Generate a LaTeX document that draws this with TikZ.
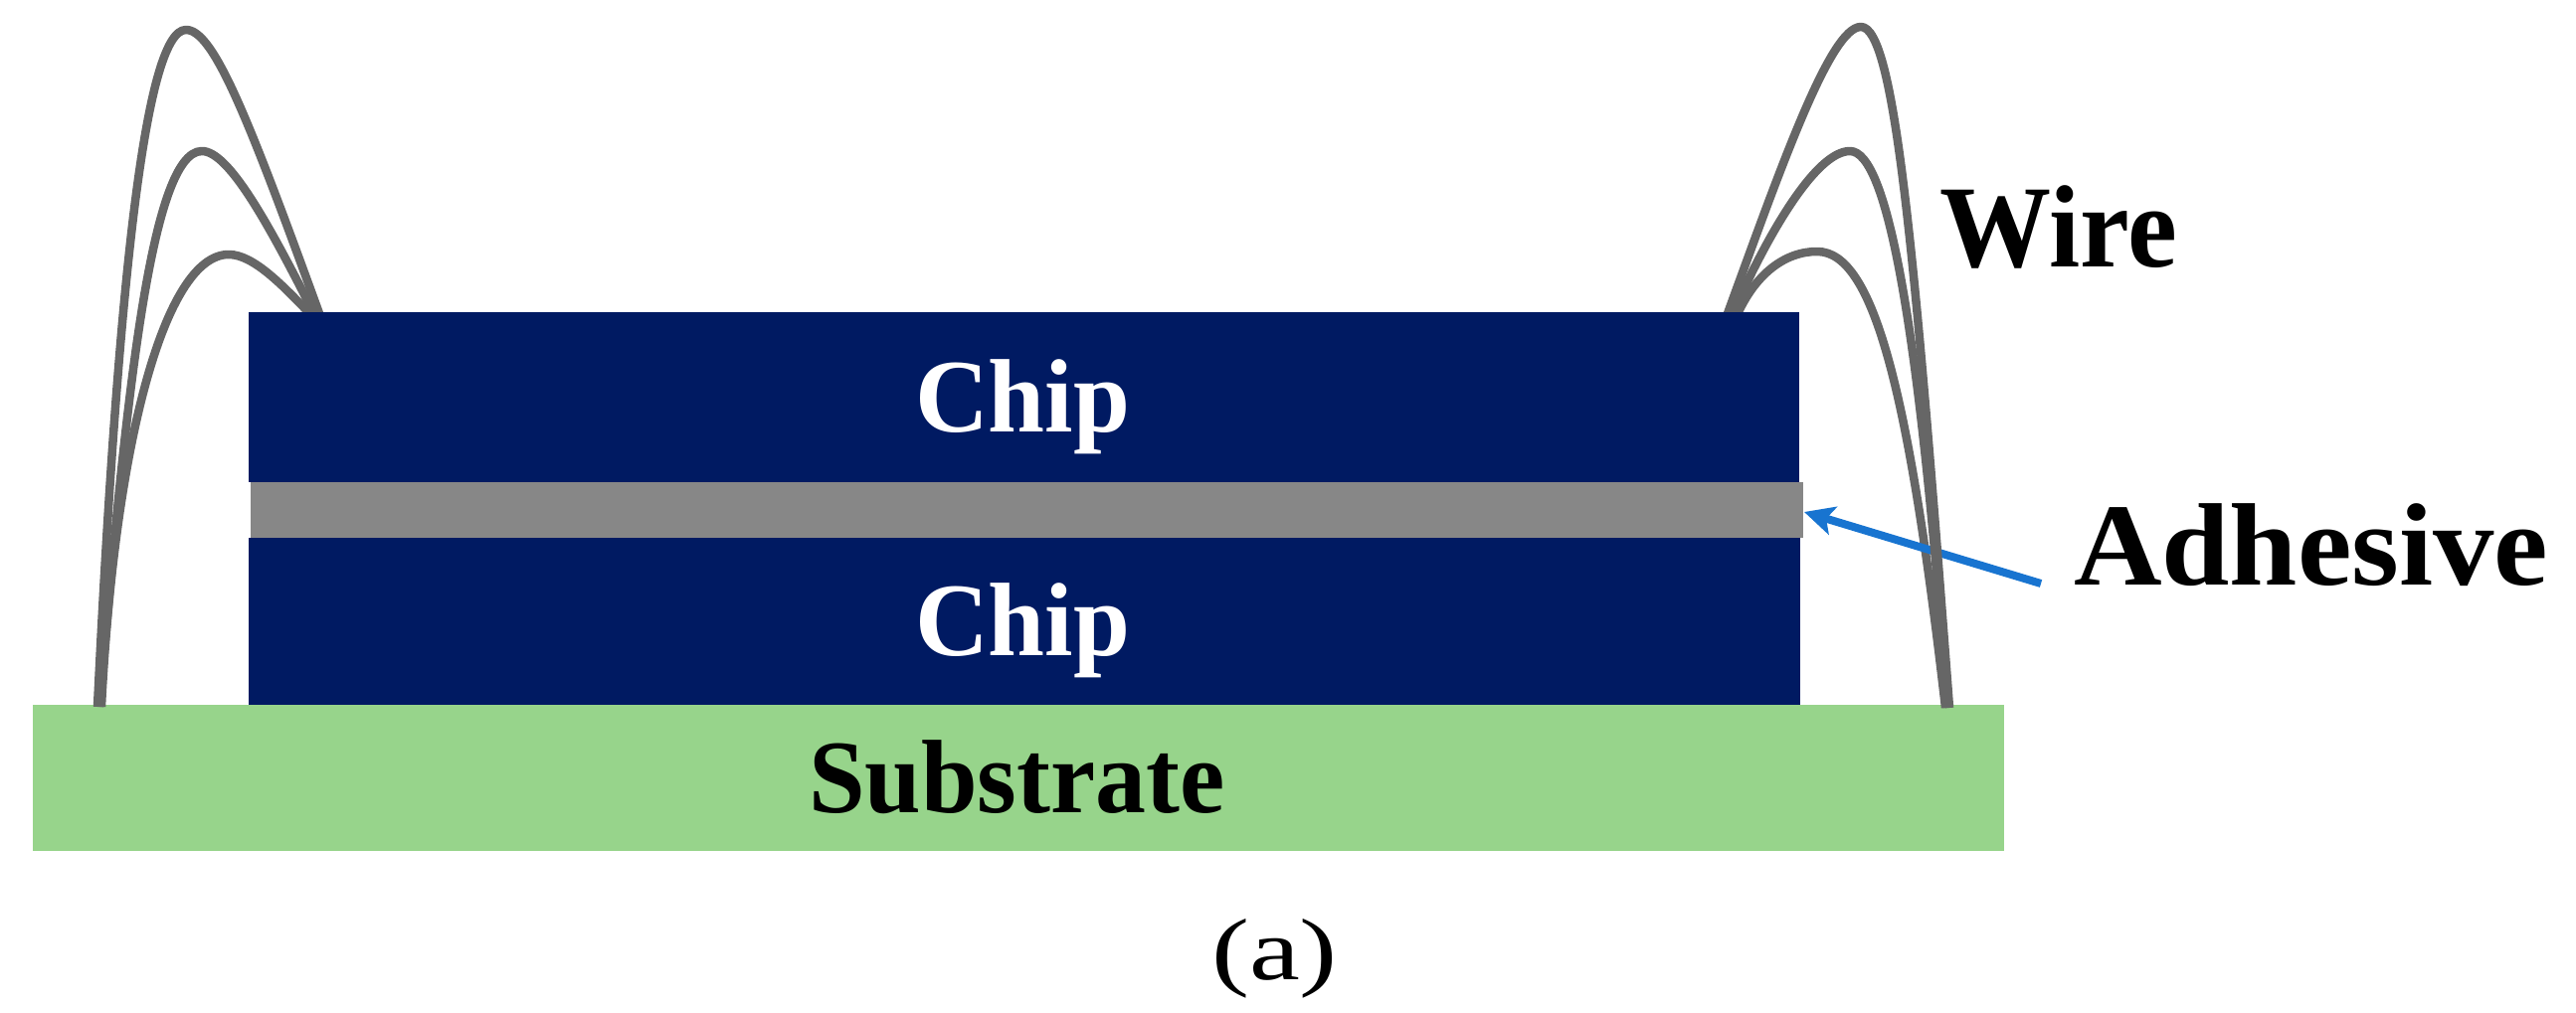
\documentclass[tikz,border=0pt]{standalone}
\usepackage{fontspec}
\setmainfont{Liberation Serif}
\usetikzlibrary{arrows.meta}
\definecolor{chipblue}{HTML}{001A62}
\definecolor{gluegray}{HTML}{878787}
\definecolor{subgreen}{HTML}{97D48B}
\definecolor{wiregray}{HTML}{666666}
\definecolor{arrowblue}{HTML}{1874D0}
\tikzset{
  layerbox/.style={rectangle,draw=none,inner sep=0pt,outer sep=0pt},
  chipbox/.style={layerbox,fill=chipblue},
  gluebox/.style={layerbox,fill=gluegray},
  subbox/.style={layerbox,fill=subgreen},
  wirepath/.style={draw=wiregray,line width=8.5pt,line join=round},
  pointer/.style={draw=arrowblue,line width=8pt,-{Stealth[length=30pt,width=29pt,inset=7pt]}},
  lab/.style={inner sep=0pt,outer sep=0pt,anchor=base west},
  smalllab/.style={lab,font=\fontsize{105}{120}\selectfont\bfseries},
  biglab/.style={lab,font=\fontsize{118}{130}\selectfont\bfseries},
  capt/.style={lab,font=\fontsize{88}{100}\selectfont}
}
\begin{document}
\begin{tikzpicture}[x=1pt,y=-1pt]
\useasboundingbox (0,0) rectangle (2590,1019);
\fill[white] (0,0) rectangle (2590,1019);
\node[subbox,minimum width=1982pt,minimum height=147pt] (substrate) at (1024,782.5) {};
\coordinate (fla) at (98,711);
\coordinate (flb) at (100,711);
\coordinate (flc) at (102,711);
\coordinate (tla) at (322,318);
\coordinate (tlb) at (317,318);
\coordinate (tlc) at (312,316);
\coordinate (fra) at (1960,712);
\coordinate (frb) at (1958,712);
\coordinate (frc) at (1956,712);
\coordinate (tra) at (1736,318);
\coordinate (trb) at (1741,318);
\coordinate (trc) at (1746,318);
\coordinate (ptail) at (2052,587);
\coordinate (ptip) at (1814,515);
% left wires
\draw[wirepath] (fla) .. controls (118,300) and (145,30) .. (187,30) .. controls (215,30) and (250,120) .. (tla);
\draw[wirepath] (flb) .. controls (125,420) and (150,152) .. (203,152) .. controls (230,152) and (270,225) .. (tlb);
\draw[wirepath] (flc) .. controls (115,450) and (165,256) .. (230,256) .. controls (255,256) and (285,288) .. (tlc);
% right wires, lowest first
\draw[wirepath] (trc) .. controls (1765,275) and (1795,253) .. (1827,253) .. controls (1885,253) and (1920,400) .. (frc);
\draw[pointer] (ptail) -- (ptip);
\draw[wirepath] (trb) .. controls (1775,240) and (1825,152) .. (1860,152) .. controls (1898,152) and (1930,330) .. (frb);
\draw[wirepath] (tra) .. controls (1790,170) and (1840,27) .. (1871,27) .. controls (1905,27) and (1925,250) .. (fra);
% chips
\node[gluebox,minimum width=1561pt,minimum height=56pt] (glue) at (1032.5,513) {};
\node[chipbox,minimum width=1559.5pt,minimum height=171.5pt] (chipa) at (1029.25,399.25) {};
\node[chipbox,minimum width=1560.5pt,minimum height=168pt] (chipb) at (1029.75,625) {};
% labels
\node[smalllab,text=white] (chiptxta) at (920,434) {\scalebox{0.975}[1]{Chip}};
\node[smalllab,text=white] (chiptxtb) at (920,659) {\scalebox{0.975}[1]{Chip}};
\node[smalllab] (subtxt) at (813,817) {\scalebox{0.97}[1]{Substrate}};
\node[biglab] (wiretxt) at (1950,268) {\scalebox{0.95}[1]{Wire}};
\node[biglab] (gluetxt) at (2085,588) {\scalebox{1.04}[1]{Adhesive}};
\node[capt] (caption) at (1218,985) {\scalebox{1.3}[1]{(a)}};
\end{tikzpicture}
\end{document}
